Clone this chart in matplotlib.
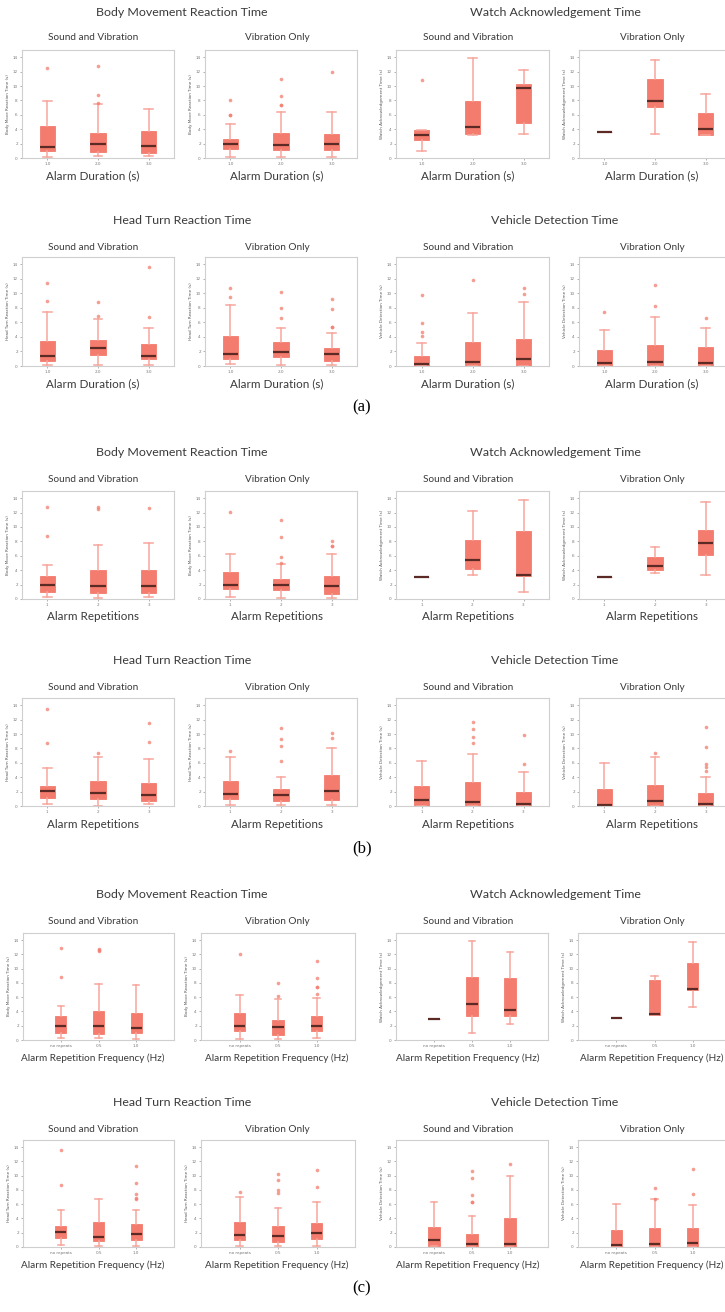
"""Alarm parameter study: reaction-time box plots.

Three blocks of small multiples, one per alarm parameter
(duration, repetitions, repetition frequency). Each block shows four
reaction measures, split by alarm modality.
"""

import matplotlib

matplotlib.use("Agg")
import matplotlib.pyplot as plt

# Box statistics per panel: (whisker low, q1, median, q3, whisker high)
# (a) alarm duration
DUR_BODY_SV = [(0.14, 0.97, 1.53, 4.44, 7.87), (0.23, 0.83, 1.94, 3.52, 7.55), (0.23, 0.65, 1.71, 3.70, 6.76)]
DUR_BODY_SV_OUT = [[12.55], [12.8, 8.7, 7.7], []]
DUR_BODY_VO = [(0.14, 1.20, 2.00, 2.69, 4.68), (0.14, 1.11, 1.76, 3.47, 6.34), (0.14, 1.06, 1.90, 3.29, 6.34)]
DUR_BODY_VO_OUT = [[8.0, 6.0, 5.95], [11.0, 8.6, 7.4, 7.35], [12.0]]
DUR_WATCH_SV = [(0.97, 2.45, 3.15, 3.84, 3.94), (3.15, 3.29, 4.30, 7.87, 13.84), (3.29, 4.90, 9.77, 10.32, 12.27)]
DUR_WATCH_SV_OUT = [[10.9], [], []]
DUR_WATCH_VO = [(3.6, 3.6, 3.6, 3.6, 3.6), (3.38, 7.08, 7.92, 11.0, 13.56), (3.24, 3.24, 3.98, 6.30, 8.84)]
DUR_WATCH_VO_OUT = [[], [], []]
DUR_HEAD_SV = [(0.14, 0.70, 1.44, 3.38, 7.42), (0.14, 1.53, 2.46, 3.57, 6.49), (0.14, 1.02, 1.39, 3.01, 5.19)]
DUR_HEAD_SV_OUT = [[11.45, 9.0], [8.81, 6.9], [13.68, 6.68]]
DUR_HEAD_VO = [(0.23, 1.02, 1.62, 4.13, 8.39), (0.14, 1.20, 1.95, 3.25, 5.29), (0.14, 0.65, 1.62, 2.41, 4.59)]
DUR_HEAD_VO_OUT = [[10.8, 9.5], [10.2, 7.97, 6.58], [9.27, 7.83, 5.42, 5.38]]
DUR_VEH_SV = [(0, 0, 0.23, 1.44, 3.10), (0, 0, 0.60, 3.34, 7.23), (0, 0, 0.93, 3.66, 8.76)]
DUR_VEH_SV_OUT = [[9.74, 5.9, 4.73, 4.13], [11.78], [10.7, 9.92]]
DUR_VEH_VO = [(0, 0, 0.42, 2.18, 4.96), (0, 0, 0.56, 2.92, 6.81), (0, 0, 0.42, 2.64, 5.24)]
DUR_VEH_VO_OUT = [[7.5], [11.08, 8.3], [6.63]]

# (b) alarm repetitions
REP_BODY_SV = [(0.32, 0.92, 1.88, 3.21, 4.77), (0.18, 0.87, 1.84, 4.08, 7.53), (0.32, 0.87, 1.74, 3.99, 7.80)]
REP_BODY_SV_OUT = [[12.8, 8.72], [12.71, 12.5], [12.57]]
REP_BODY_VO = [(0.23, 1.38, 1.88, 3.76, 6.29), (0.18, 1.24, 1.97, 2.71, 4.91), (0.18, 0.73, 1.79, 3.21, 6.29)]
REP_BODY_VO_OUT = [[12.02], [11.0, 8.58, 5.83, 5.05], [7.99, 7.34, 7.3]]
REP_WATCH_SV = [(3.07, 3.07, 3.07, 3.07, 3.07), (3.30, 4.22, 5.37, 8.26, 12.25), (0.92, 3.21, 3.30, 9.50, 13.81)]
REP_WATCH_SV_OUT = [[], [], []]
REP_WATCH_VO = [(3.07, 3.07, 3.07, 3.07, 3.07), (3.63, 4.04, 4.54, 5.83, 7.20), (3.40, 6.06, 7.76, 9.59, 13.49)]
REP_WATCH_VO_OUT = [[], [], []]
REP_HEAD_SV = [(0.23, 1.16, 2.08, 2.82, 5.22), (0.05, 0.92, 1.76, 3.47, 6.84), (0.23, 0.65, 1.52, 3.23, 6.52)]
REP_HEAD_SV_OUT = [[13.54, 8.78], [7.39], [11.46, 8.92]]
REP_HEAD_VO = [(0.09, 1.02, 1.66, 3.47, 6.84), (0.09, 0.69, 1.48, 2.31, 4.07), (0.09, 0.88, 2.08, 4.30, 7.99)]
REP_HEAD_VO_OUT = [[7.67], [10.77, 9.24, 8.32, 6.24], [10.17, 9.47]]
REP_VEH_SV = [(0.05, 0.05, 0.83, 2.77, 6.28), (0, 0, 0.51, 3.37, 7.21), (0, 0, 0.23, 1.94, 4.71)]
REP_VEH_SV_OUT = [[], [11.69, 10.63, 9.61, 8.69], [9.89, 5.78]]
REP_VEH_VO = [(0, 0, 0.18, 2.40, 5.92), (0, 0, 0.74, 2.91, 6.75), (0, 0, 0.23, 1.76, 3.97)]
REP_VEH_VO_OUT = [[], [7.39], [10.91, 8.23, 5.82, 5.45, 4.85]]

# (c) alarm repetition frequency
FREQ_BODY_SV = [(0.23, 0.92, 1.99, 3.33, 4.76), (0.23, 0.79, 2.03, 4.07, 7.86), (0.09, 0.92, 1.71, 3.84, 7.72)]
FREQ_BODY_SV_OUT = [[12.94, 8.78], [12.71, 12.6, 12.52], []]
FREQ_BODY_VO = [(0.09, 1.29, 1.94, 3.79, 6.33), (0.09, 0.69, 1.80, 2.77, 5.70), (0.23, 1.29, 1.99, 3.33, 5.91)]
FREQ_BODY_VO_OUT = [[12.01], [7.95, 6.15], [11.09, 8.64, 7.49, 7.45, 6.38]]
FREQ_WATCH_SV = [(3.0, 3.0, 3.0, 3.0, 3.0), (0.92, 3.33, 4.99, 8.78, 13.86), (2.31, 3.42, 4.16, 8.64, 12.38)]
FREQ_WATCH_SV_OUT = [[], [], []]
FREQ_WATCH_VO = [(3.14, 3.14, 3.14, 3.14, 3.14), (3.51, 3.51, 3.60, 8.41, 8.96), (4.62, 7.02, 7.21, 10.81, 13.68)]
FREQ_WATCH_VO_OUT = [[], [], []]
FREQ_HEAD_SV = [(0.32, 1.24, 2.12, 2.99, 5.25), (0.18, 0.88, 1.47, 3.50, 6.72), (0.18, 0.92, 1.84, 3.18, 5.16)]
FREQ_HEAD_SV_OUT = [[13.59, 8.75], [], [11.42, 8.94, 7.46, 6.8, 6.75]]
FREQ_HEAD_VO = [(0.18, 1.01, 1.66, 3.45, 6.96), (0.18, 0.69, 1.61, 2.99, 5.44), (0.18, 1.11, 2.03, 3.41, 6.26)]
FREQ_HEAD_VO_OUT = [[7.74], [10.23, 9.44, 8.06, 7.6], [10.82, 8.38]]
FREQ_VEH_SV = [(0.09, 0.09, 0.92, 2.86, 6.31), (0, 0, 0.46, 1.84, 4.33), (0, 0, 0.41, 4.10, 9.90)]
FREQ_VEH_SV_OUT = [[], [10.69, 9.67, 7.23, 6.3, 6.26], [11.6]]
FREQ_VEH_VO = [(0, 0, 0.23, 2.39, 5.99), (0, 0, 0.41, 2.62, 6.68), (0, 0, 0.55, 2.67, 5.90)]
FREQ_VEH_VO_OUT = [[], [8.29, 6.72], [10.97, 7.42]]

DUR_TICKS = ["1.0", "2.0", "3.0"]
REP_TICKS = ["1", "2", "3"]
FREQ_TICKS = ["no repeats", "0.5", "1.0"]

MEASURES = [
    ("Body Movement Reaction Time", "Body Move Reaction Time (s)"),
    ("Watch Acknowledgement Time", "Watch Acknowledgement Time (s)"),
    ("Head Turn Reaction Time", "Head Turn Reaction Time (s)"),
    ("Vehicle Detection Time", "Vehicle Detection Time (s)"),
]
MODALITIES = ["Sound and Vibration", "Vibration Only"]

BOX = "#f47c6e"
MEDIAN = "#5b2a24"
WHISKER = "#f7a59b"
SPINE = "#cfcfcf"
TEXT = "#3a3a3a"
FONT = "Lato"

W, H = 725, 1312

# row geometry in pixels: title y, subtitle y, axes top, axes bottom, xlabel y
ROWS = {
    "a": [(12, 38, 50, 158, 176), (220, 247, 257, 366, 384)],
    "b": [(453, 480, 491, 599, 617), (661, 687, 698, 806, 824)],
    "c": [(894, 922, 933, 1040, 1058), (1102, 1129, 1140, 1247, 1265)],
}
LETTER_Y = {"a": 407, "b": 848, "c": 1288}
# panel left/right edges in pixels
COLS_AB = [(22, 174), (205, 357), (396, 549), (579, 731)]
COLS_C = [(23, 174), (201, 355), (396, 548), (578, 731)]
SUB_X = [93, 277, 468, 652]
TITLE_X = [182, 555]


def draw_panel(fig, rect, stats, fliers, ticks, ylabel, xlim):
    left, right, top, bottom = rect
    ax = fig.add_axes([left / W, 1 - bottom / H, (right - left) / W, (bottom - top) / H])
    boxes = []
    for (lo, q1, med, q3, hi), out in zip(stats, fliers):
        boxes.append(dict(whislo=lo, q1=q1, med=med, q3=q3, whishi=hi, fliers=out))
    ax.bxp(
        boxes,
        positions=[1, 2, 3],
        widths=0.3,
        capwidths=0.17,
        patch_artist=True,
        boxprops=dict(facecolor=BOX, edgecolor=BOX, linewidth=0.6),
        medianprops=dict(color=MEDIAN, linewidth=1.6),
        whiskerprops=dict(color=WHISKER, linewidth=1.1),
        capprops=dict(color=WHISKER, linewidth=1.1),
        flierprops=dict(marker="o", markersize=2.6, markerfacecolor=BOX,
                        markeredgecolor="none", alpha=0.75),
    )
    ax.set_xlim(*xlim)
    ax.set_ylim(0, 15)
    ax.set_yticks(range(0, 15, 2))
    ax.set_xticks([1, 2, 3])
    ax.set_xticklabels(ticks)
    ax.tick_params(labelsize=3, length=1.5, width=0.4, colors="#777777", pad=1.5)
    ax.set_ylabel(ylabel, fontsize=3, color="#555555", labelpad=2)
    for s in ax.spines.values():
        s.set_color(SPINE)
        s.set_linewidth(0.8)
    return ax


def main() -> None:
    fig = plt.figure(figsize=(W / 100, H / 100), dpi=100)

    # (letter, data prefix, tick labels, x label, label size, panel edges, xlim)
    sections = [
        ("a", "DUR", DUR_TICKS, "Alarm Duration (s)", 8.4, COLS_AB, (0.5, 3.5)),
        ("b", "REP", REP_TICKS, "Alarm Repetitions", 8.4, COLS_AB, (0.5, 3.5)),
        ("c", "FREQ", FREQ_TICKS, "Alarm Repetition Frequency (Hz)", 7.2, COLS_C, (0.0, 4.0)),
    ]
    keys = ["BODY", "WATCH", "HEAD", "VEH"]
    data = globals()

    for letter, prefix, ticks, xlabel, xl_size, cols, xlim in sections:
        for m, (title, ylabel) in enumerate(MEASURES):
            title_y, sub_y, top, bottom, xlab_y = ROWS[letter][m // 2]
            half = m % 2
            fig.text(TITLE_X[half] / W, 1 - title_y / H, title, ha="center", va="center",
                     fontsize=8.9, color=TEXT, family=FONT)
            for k, mod in enumerate(["SV", "VO"]):
                c = half * 2 + k
                name = f"{prefix}_{keys[m]}_{mod}"
                left, right = cols[c]
                draw_panel(fig, (left, right, top, bottom), data[name], data[name + "_OUT"],
                           ticks, ylabel, xlim)
                fig.text(SUB_X[c] / W, 1 - sub_y / H, MODALITIES[k], ha="center", va="center",
                         fontsize=7.2, color=TEXT, family=FONT)
                fig.text(SUB_X[c] / W, 1 - xlab_y / H, xlabel, ha="center", va="center",
                         fontsize=xl_size, color=TEXT, family=FONT)
        fig.text(362 / W, 1 - LETTER_Y[letter] / H, f"({letter})", ha="center", va="center",
                 fontsize=12, color="black", family="Liberation Serif")

    fig.savefig("out.png", dpi=100, facecolor="white")
    plt.close(fig)


if __name__ == "__main__":
    main()
